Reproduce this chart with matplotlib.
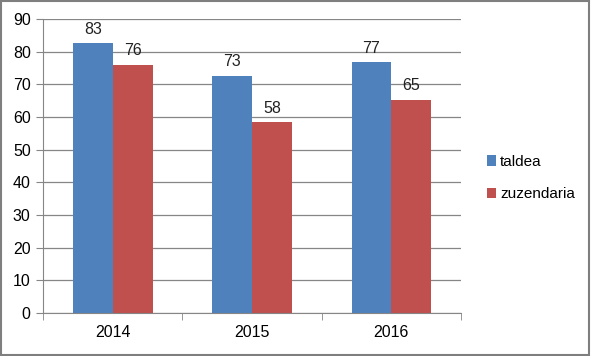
import numpy as np
import matplotlib.pyplot as plt
from matplotlib.patches import Rectangle

years = ['2014', '2015', '2016']
taldea = [82.6, 72.6, 76.7]
zuzendaria = [75.9, 58.3, 65.2]

plt.rcParams['font.family'] = ['Liberation Sans', 'DejaVu Sans']

fig = plt.figure(figsize=(5.91, 3.56), dpi=100)
ax = fig.add_axes([0.073, 0.121, 0.707, 0.826])

x = np.arange(len(years))
w = 0.286
b1 = ax.bar(x - w/2, taldea, w, color='#4F81BD', label='taldea')
b2 = ax.bar(x + w/2, zuzendaria, w, color='#C0504D', label='zuzendaria')

for bars in (b1, b2):
    for r in bars:
        ax.text(r.get_x() + r.get_width()/2, r.get_height() + 2.0, '%.0f' % r.get_height(),
                ha='center', va='bottom', fontsize=11.5, color='#222222')

ax.set_xlim(-0.5, 2.5)
ax.set_ylim(0, 90)
ax.set_yticks(range(0, 91, 10))
ax.set_xticks(x)
ax.set_xticklabels(years)
ax.set_xticks([-0.5, 0.5, 1.5, 2.5], minor=True)
ax.tick_params(axis='x', which='major', length=0, pad=9, labelsize=11.5)
ax.tick_params(axis='x', which='minor', length=5, color='#868686')
ax.tick_params(axis='y', length=5, color='#868686', labelsize=11.5, pad=4)
ax.yaxis.grid(True, color='#868686', linewidth=0.9)
ax.set_axisbelow(True)
for s in ['top', 'right']:
    ax.spines[s].set_visible(False)
for s in ['left', 'bottom']:
    ax.spines[s].set_color('#868686')

fig.legend(handles=[b1, b2], loc='center left', bbox_to_anchor=(0.8, 0.5),
           frameon=False, fontsize=11, handlelength=0.65, handleheight=0.65,
           handletextpad=0.25, labelspacing=1.2)

fig.patches.append(Rectangle((0.002, 0.003), 0.995, 0.993, transform=fig.transFigure,
                             fill=False, edgecolor='#7f7f7f', linewidth=1.5))

fig.savefig('out.png', dpi=100)
